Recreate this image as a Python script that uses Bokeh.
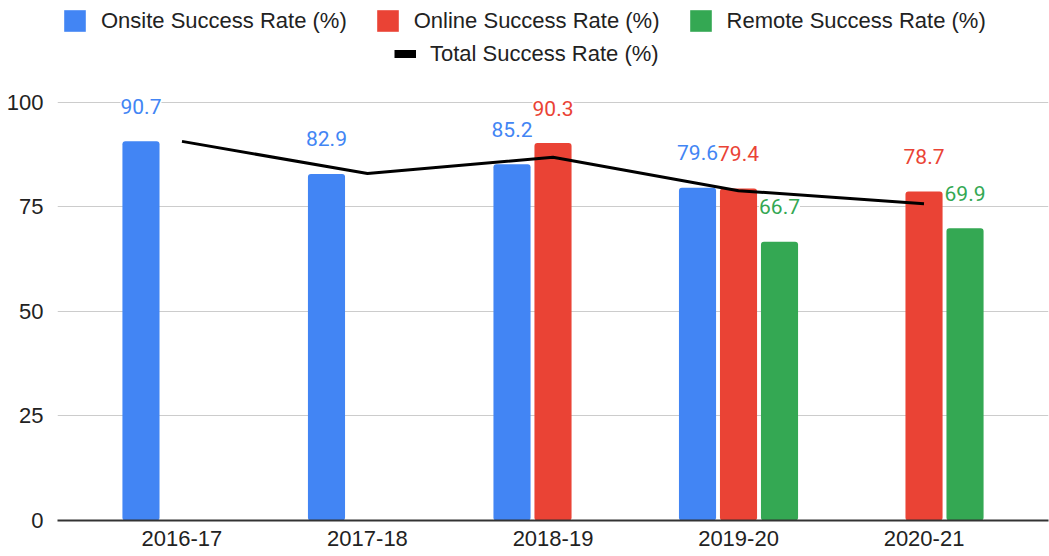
import numpy as np
from bokeh.plotting import figure
from bokeh.models import (ColumnDataSource, Legend, LegendItem, FixedTicker,
                          Range1d)
from bokeh.transform import dodge
from bokeh.embed import file_html
from bokeh.resources import INLINE
from bokeh.core.properties import value

# ---------------- data ----------------
years = ["2016-17", "2017-18", "2018-19", "2019-20", "2020-21"]
onsite = [90.7, 82.9, 85.2, 79.6, None]
online = [None, None, 90.3, 79.4, 78.7]
remote = [None, None, None, 66.7, 69.9]
total = [90.7, 83.0, 86.9, 78.9, 75.8]
y_ticks = [0, 25, 50, 75, 100]

BLUE = "#4285F4"
RED = "#EA4335"
GREEN = "#34A853"
AXIS_FONT = "Liberation Sans"
LABEL_FONT = "Roboto"


def make_src(vals):
    xs = [i for i, v in enumerate(vals) if v is not None]
    ys = [v for v in vals if v is not None]
    return ColumnDataSource(dict(x=xs, y=ys, label=[f"{v:.1f}" for v in ys]))


p = figure(width=1049, height=556, output_backend="svg", toolbar_location=None,
           x_range=Range1d(-0.671, 4.671), y_range=Range1d(0, 124.4),
           min_border_left=57, min_border_right=1, min_border_top=0,
           min_border_bottom=36, outline_line_color=None)
p.background_fill_color = "white"
p.border_fill_color = "white"

# grid
p.xgrid.visible = False
p.ygrid.ticker = FixedTicker(ticks=y_ticks)
p.ygrid.grid_line_color = "#cccccc"
p.ygrid.grid_line_width = 1.2

# y axis
p.yaxis.ticker = FixedTicker(ticks=y_ticks)
p.yaxis.axis_line_color = None
p.yaxis.major_tick_line_color = None
p.yaxis.minor_tick_line_color = None
p.yaxis.major_tick_out = 0
p.yaxis.major_label_standoff = 14
p.yaxis.major_label_text_font = AXIS_FONT
p.yaxis.major_label_text_font_size = "22px"
p.yaxis.major_label_text_color = "#222222"

# x axis
p.xaxis.ticker = FixedTicker(ticks=list(range(len(years))))
p.xaxis.major_label_overrides = {i: y for i, y in enumerate(years)}
p.xaxis.major_label_text_font = AXIS_FONT
p.xaxis.major_label_text_font_size = "22px"
p.xaxis.major_label_text_color = "#222222"
p.xaxis.major_label_standoff = 10
p.xaxis.major_tick_out = 0
p.xaxis.major_tick_in = 0
p.xaxis.major_tick_line_color = None
p.xaxis.minor_tick_line_color = None
p.xaxis.axis_line_color = "#333333"
p.xaxis.axis_line_width = 2

# bars
W = 0.2
OFF = 0.221
series = [(onsite, -OFF, BLUE), (online, 0.0, RED), (remote, OFF, GREEN)]
bar_renderers = []
for vals, off, col in series:
    src = make_src(vals)
    r = p.vbar(x=dodge("x", off), top="y", width=W, source=src,
               fill_color=col, line_color=None, border_radius=3)
    bar_renderers.append(r)
    p.text(x=dodge("x", off), y="y", text="label", source=src,
           text_align="center", text_baseline="alphabetic", y_offset=-35,
           text_font=value(LABEL_FONT), text_font_size="21px", text_color=col,
           background_fill_color="white", padding=0)

# total line
tot_src = ColumnDataSource(dict(x=list(range(len(years))), y=total))
p.line(x="x", y="y", source=tot_src, line_color="black", line_width=3)
# legend-only copy of the total line (thicker key), mapped onto an off-screen range
p.extra_y_ranges = {"legend_key": Range1d(1000, 1001)}
tot_leg = p.line(x="x", y="y", source=tot_src, line_color="black", line_width=8,
                 y_range_name="legend_key")

common = dict(orientation="horizontal", padding=0, margin=0,
              border_line_color=None, background_fill_alpha=0,
              label_text_font=AXIS_FONT, label_text_font_size="22px",
              label_text_color="#222222", label_height=22)

leg1 = Legend(items=[LegendItem(label="Onsite Success Rate (%)", renderers=[bar_renderers[0]]),
                     LegendItem(label="Online Success Rate (%)", renderers=[bar_renderers[1]]),
                     LegendItem(label="Remote Success Rate (%)", renderers=[bar_renderers[2]])],
              location=(4, 486), glyph_width=27, glyph_height=27,
              label_standoff=13, spacing=27, **common)
leg2 = Legend(items=[LegendItem(label="Total Success Rate (%)", renderers=[tot_leg])],
              location=(337, 453), glyph_width=22, glyph_height=27,
              label_standoff=14, spacing=26, **common)
p.add_layout(leg1)
p.add_layout(leg2)

open("out.html", "w").write(file_html(p, INLINE))
